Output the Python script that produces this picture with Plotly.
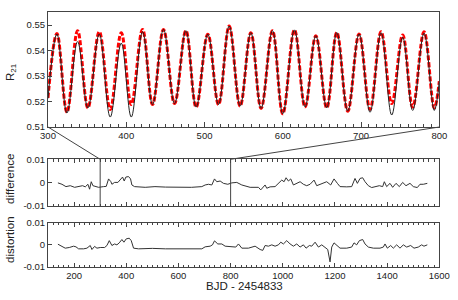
import plotly.graph_objects as go

# ---------------- data ----------------
# top panel: extrema (BJD - 2454833, R21)
t_top = [300, 311.4, 324.2, 337.8, 351.0, 365.5, 379.5, 393.6, 406.4, 420.8, 433.6, 447.6,
         461.7, 476.2, 489.3, 504.2, 517.9, 531.5, 545.5, 559.2, 572.3, 586.8, 600.0,
         614.9, 628.5, 642.2, 656.2, 669.0, 683.0, 697.5, 711.5, 725.6, 739.2, 753.2,
         766.0, 780.5, 793.6, 800]
r21_model = [0.5212, 0.5465, 0.5155, 0.5435, 0.5175, 0.5465, 0.5139, 0.5429, 0.5139, 0.5474,
             0.5188, 0.5483, 0.5192, 0.5478, 0.5178, 0.5464, 0.5188, 0.5496, 0.5182, 0.5470,
             0.5173, 0.5478, 0.5152, 0.5481, 0.5179, 0.5458, 0.5175, 0.5471, 0.5162, 0.5465,
             0.5158, 0.5470, 0.5147, 0.5452, 0.5165, 0.5468, 0.5165, 0.5279]
r21_obs = [0.5214, 0.5467, 0.5158, 0.5478, 0.5175, 0.5474, 0.5169, 0.5470, 0.5188, 0.5483,
           0.5188, 0.5483, 0.5192, 0.5478, 0.5178, 0.5464, 0.5188, 0.5496, 0.5182, 0.5470,
           0.5173, 0.5478, 0.5152, 0.5481, 0.5179, 0.5458, 0.5175, 0.5471, 0.5162, 0.5465,
           0.5169, 0.5474, 0.5192, 0.5461, 0.5178, 0.5474, 0.5175, 0.5280]

# difference panel
diff_t = [138, 153.5, 168.8, 185.4, 202, 217.3, 232.6, 242.9, 253, 259.4, 265.8, 272.2, 283.7,
          293.9, 313, 323.3, 332.2, 341.2, 345, 355.2, 368, 376.9, 385.8, 392.2, 398.6, 408.8,
          416.5, 421.6, 431.8, 472.7, 510, 550, 600, 650, 689.7, 702.4, 715.2, 728, 738.2,
          747.1, 759.9, 772.6, 789.2, 804.6, 823.7, 842.9, 874.8, 906.7, 915.6, 925.8, 932.2,
          938.6, 951.4, 970.5, 987.1, 996.1, 1005, 1012.7, 1021.6, 1030.5, 1040.8, 1053.5,
          1066.3, 1079, 1091.8, 1104.6, 1119.9, 1130.1, 1142.9, 1155.6, 1168.4, 1183.7, 1196.5,
          1209.3, 1219.5, 1245, 1264.2, 1276.9, 1285.9, 1296.1, 1306.3, 1315.3, 1328, 1340.8,
          1353.6, 1370.2, 1382.9, 1389.3, 1398.2, 1411, 1421.2, 1434, 1446.8, 1459.5, 1472.3,
          1487.6, 1500.4, 1515.7, 1525.9, 1538.7, 1554]
diff_v = [-0.0001, -0.0007, -0.0017, -0.0013, -0.0020, -0.0018, -0.0013, -0.0018, -0.0007,
          -0.0028, 0.0004, -0.0013, -0.0016, -0.0020, -0.0017, -0.0016, 0.0016, 0.0004,
          -0.0007, 0.0001, 0.0001, 0.0011, 0.0024, 0.0007, 0.0024, 0.0026, 0.0016, -0.0010,
          -0.0017, -0.0020, -0.0017, -0.0019, -0.0020, -0.0020, -0.0017, -0.0010, -0.0007,
          -0.0010, 0.0016, 0.0004, 0.0007, -0.0003, -0.0007, -0.0001, 0.0001, -0.0010,
          -0.0020, -0.0020, -0.0031, -0.0017, -0.0010, -0.0024, -0.0018, -0.0017, 0.0004,
          0.0011, 0.0004, 0.0021, 0.0007, 0.0016, -0.0010, -0.0003, 0.0004, -0.0007, -0.0013,
          -0.0007, 0.0011, -0.0013, -0.0007, -0.0003, 0.0004, -0.0010, 0.0016, -0.0003,
          -0.0017, -0.0018, -0.0017, 0.0018, -0.0003, 0.0018, 0.0021, 0.0004, -0.0013,
          -0.0021, -0.0017, -0.0013, -0.0017, 0.0004, -0.0017, -0.0003, -0.0020, -0.0003,
          -0.0017, 0.0001, -0.0013, -0.0003, -0.0017, -0.0021, -0.0007, -0.0007, -0.0003]

# distortion panel
dist_t = [138, 153.5, 166, 181.6, 198.2, 207.2, 217.3, 236.5, 249.3, 262, 268.4, 278.6, 287.6,
          300.4, 317, 325.9, 334.9, 345, 355.2, 364.2, 373.1, 383.3, 391, 399.9, 411.4, 419.1,
          428, 447.2, 500, 550, 600, 650, 689.7, 702.4, 721.6, 730.5, 738.2, 751, 766.3, 779.1,
          804.6, 819.9, 830.1, 842.9, 868.4, 893.9, 913.1, 923.3, 932.2, 945, 957.8, 970.5,
          983.3, 992.2, 1002.4, 1015.2, 1028, 1040.8, 1053.5, 1066.3, 1079, 1089.3, 1102, 1111,
          1123.8, 1136.6, 1149.4, 1162.1, 1172.3, 1181.2, 1187.6, 1196.5, 1209.3, 1219.5, 1245,
          1264.2, 1273.1, 1283.3, 1293.6, 1306.3, 1315.3, 1328, 1347.2, 1372.7, 1385.5, 1391.9,
          1400.8, 1413.6, 1423.8, 1436.6, 1449.3, 1462.1, 1474.9, 1490.2, 1503, 1519.5, 1532.3,
          1541.2, 1554]
dist_v = [0.0003, -0.0006, -0.0015, -0.0012, -0.0006, -0.0009, -0.0018, -0.0018, -0.0015,
          -0.0003, -0.0021, -0.0007, -0.0015, -0.0012, -0.0012, -0.0003, 0.0019, -0.0003,
          0.0004, 0.0, 0.0009, 0.0024, 0.0012, 0.0027, 0.0030, 0.0019, -0.0015, -0.0018,
          -0.0016, -0.0018, -0.0017, -0.0018, -0.0018, -0.0009, -0.0006, 0.0, 0.0018, 0.0004,
          0.0004, -0.0006, -0.0010, -0.0010, 0.0004, -0.0015, -0.0015, -0.0006, -0.0021,
          -0.0025, -0.0003, -0.0006, 0.0, -0.0006, 0.0, 0.0012, 0.0004, 0.0019, 0.0004,
          -0.0006, 0.0004, -0.0010, 0.0, -0.0015, -0.0003, -0.0006, 0.0012, -0.0010, 0.0,
          -0.0010, -0.0021, -0.0077, -0.0010, 0.0009, -0.0003, -0.0015, -0.0015, -0.0010,
          0.0009, 0.0, 0.0019, 0.0024, 0.0004, -0.0010, -0.0015, -0.0015, -0.0010, 0.0004,
          -0.0015, -0.0003, -0.0015, 0.0, -0.0015, 0.0, -0.0010, -0.0003, -0.0015, -0.0010,
          0.0, -0.0006, 0.0]

top_yticks = [0.51, 0.52, 0.53, 0.54, 0.55]
small_yticks = [-0.01, 0, 0.01]
small_yticktext = ["-0.01", "0", "0.01"]
top_xrange = [300, 800]
full_xrange = [100, 1600]

# ---------------- layout geometry ----------------
W, H = 458, 300
XD = [48 / W, 439.3 / W]
TOP_D = [1 - 127 / H, 1 - 12.3 / H]
DIF_D = [1 - 206 / H, 1 - 159.3 / H]
DIS_D = [1 - 267 / H, 1 - 222.7 / H]

AX = "#444444"
TXT = "#222222"
FONT = "Liberation Sans, Arial, Helvetica, sans-serif"

fig = go.Figure()

fig.add_trace(go.Scatter(x=t_top, y=r21_obs, mode="lines",
                         line=dict(color="#ff0000", width=3, dash="5px,2px", shape="spline", smoothing=1.1),
                         xaxis="x", yaxis="y", showlegend=False, hoverinfo="skip"))
fig.add_trace(go.Scatter(x=t_top, y=r21_model, mode="lines",
                         line=dict(color="#222222", width=1, shape="spline", smoothing=1.1),
                         xaxis="x", yaxis="y", showlegend=False, hoverinfo="skip"))
fig.add_trace(go.Scatter(x=diff_t, y=diff_v, mode="lines",
                         line=dict(color="#333333", width=1),
                         xaxis="x2", yaxis="y2", showlegend=False, hoverinfo="skip"))
fig.add_trace(go.Scatter(x=dist_t, y=dist_v, mode="lines",
                         line=dict(color="#333333", width=1),
                         xaxis="x3", yaxis="y3", showlegend=False, hoverinfo="skip"))

tickfont = dict(family=FONT, size=9.5, color=TXT)
common_ax = dict(showline=True, linecolor=AX, linewidth=1, showgrid=False, zeroline=False,
                 ticks="inside", tickcolor=AX, tickwidth=1, tickfont=tickfont, automargin=False,
                 fixedrange=True)

fig.update_layout(
    width=W, height=H, autosize=False,
    margin=dict(l=0, r=0, t=0, b=0, pad=0, autoexpand=False),
    paper_bgcolor="white", plot_bgcolor="white",
    showlegend=False, hovermode=False,
    font=dict(family=FONT, color=TXT),
    xaxis=dict(domain=XD, anchor="y", range=top_xrange, dtick=100, tick0=300, ticklen=5,
               mirror=True, minor=dict(dtick=10, tick0=300, ticklen=3, ticks="inside", tickcolor=AX),
               **common_ax),
    yaxis=dict(domain=TOP_D, anchor="x", range=[0.51, 0.555], tickvals=top_yticks, ticklen=4,
               mirror=True, **common_ax),
    xaxis2=dict(domain=XD, anchor="y2", range=full_xrange, dtick=200, tick0=200, ticklen=4,
                mirror="allticks", showticklabels=False,
                minor=dict(dtick=20, tick0=100, ticklen=2.5, ticks="inside", tickcolor=AX),
                **common_ax),
    yaxis2=dict(domain=DIF_D, anchor="x2", range=[-0.01, 0.01], tickvals=small_yticks,
                ticktext=small_yticktext, ticklen=4, mirror=True, **common_ax),
    xaxis3=dict(domain=XD, anchor="y3", range=full_xrange, dtick=200, tick0=200, ticklen=4,
                mirror="allticks",
                minor=dict(dtick=20, tick0=100, ticklen=2.5, ticks="inside", tickcolor=AX),
                **common_ax),
    yaxis3=dict(domain=DIS_D, anchor="x3", range=[-0.01, 0.01], tickvals=small_yticks,
                ticktext=small_yticktext, ticklen=4, mirror=True, **common_ax),
)

# zoom connector lines (positions derived from axis ranges and domains)
def full_to_paper(t):
    return XD[0] + (t - full_xrange[0]) / (full_xrange[1] - full_xrange[0]) * (XD[1] - XD[0])

fig.add_shape(type="line", xref="paper", yref="paper",
              x0=XD[0], y0=TOP_D[0], x1=full_to_paper(top_xrange[0]), y1=DIF_D[1],
              line=dict(color=AX, width=1))
fig.add_shape(type="line", xref="paper", yref="paper",
              x0=XD[1], y0=TOP_D[0], x1=full_to_paper(top_xrange[1]), y1=DIF_D[1],
              line=dict(color=AX, width=1))
for t in top_xrange:
    fig.add_shape(type="line", xref="x2", yref="y2 domain", x0=t, x1=t, y0=0, y1=1,
                  line=dict(color=AX, width=1))

lab = dict(family=FONT, size=11.5, color=TXT)
fig.add_annotation(text="R<sub>21</sub>", x=11 / W, y=1 - 72 / H, xref="paper", yref="paper",
                   textangle=-90, showarrow=False, font=lab, xanchor="center", yanchor="middle")
fig.add_annotation(text="difference", x=10 / W, y=1 - 179 / H, xref="paper", yref="paper",
                   textangle=-90, showarrow=False, font=lab, xanchor="center", yanchor="middle")
fig.add_annotation(text="distortion", x=10 / W, y=1 - 240 / H, xref="paper", yref="paper",
                   textangle=-90, showarrow=False, font=lab, xanchor="center", yanchor="middle")
fig.add_annotation(text="BJD - 2454833", x=244 / W, y=1 - 286 / H, xref="paper", yref="paper",
                   showarrow=False, font=lab, xanchor="center", yanchor="middle")

fig.write_html("out.html",
               config={"displayModeBar": False, "staticPlot": True},
               post_script="document.body.style.margin='0px';document.body.style.padding='0px';")
